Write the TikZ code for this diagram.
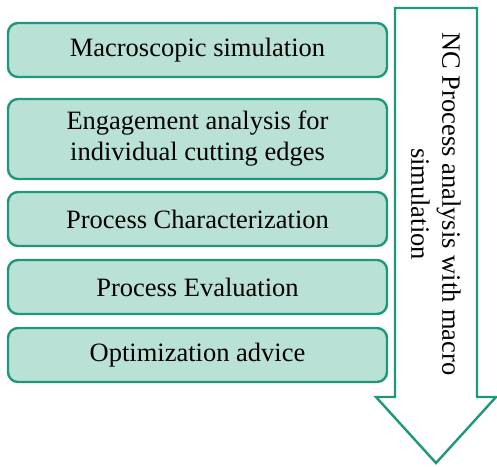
\documentclass[tikz,border=0pt]{standalone}
\usepackage{fontspec}
\setmainfont{Liberation Serif}
\definecolor{stepfill}{RGB}{186,225,214}
\definecolor{stepline}{RGB}{30,152,122}
\tikzset{
  stepbox/.style={draw=stepline, fill=stepfill, line width=2.4pt, rounded corners=10pt,
    minimum width=379pt, align=center, inner sep=0pt,
    font=\fontsize{26.5}{31}\selectfont},
  flowlabel/.style={align=center, inner sep=0pt, font=\fontsize{26.5}{31}\selectfont}
}
\begin{document}
\begin{tikzpicture}[x=1pt,y=1pt,yscale=-1]
    \useasboundingbox (0,0) rectangle (497,466);
    % process steps
    \node[stepbox, minimum height=54pt] (macro) at (197.5,50) {Macroscopic simulation};
    \node[stepbox, minimum height=80pt] (engage) at (197.5,139) {Engagement analysis for\\individual cutting edges};
    \node[stepbox, minimum height=54pt] (charact) at (197.5,219) {Process Characterization};
    \node[stepbox, minimum height=54pt] (evalu) at (197.5,287) {Process Evaluation};
    \node[stepbox, minimum height=54pt] (optim) at (197.5,355) {Optimization advice};
    % big down arrow
    \draw[draw=stepline, fill=white, line width=2.4pt, line join=miter]
      (395,8) -- (477,8) -- (477,397) -- (496,397) -- (436,463) -- (376,397) -- (395,397) -- cycle;
    \node[flowlabel, rotate=-90] (ncflow) at (436,204) {NC Process analysis with macro\\simulation};
\end{tikzpicture}
\end{document}
